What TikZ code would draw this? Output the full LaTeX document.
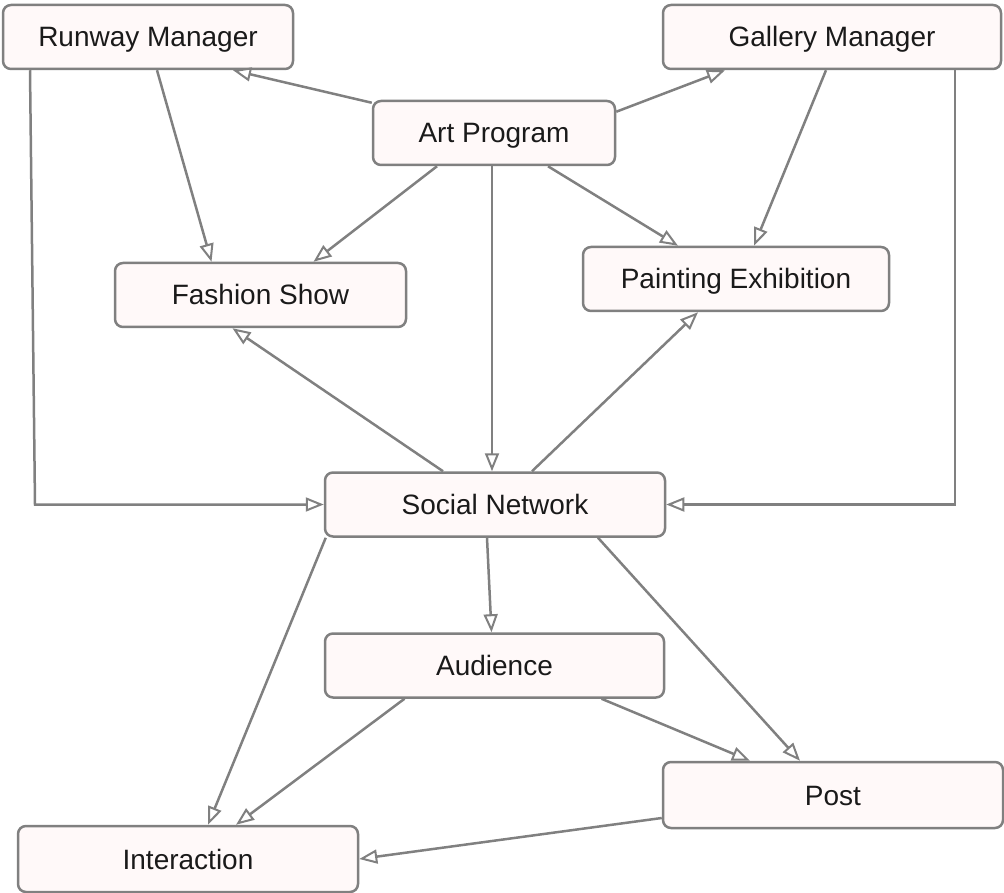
\documentclass[tikz,border=0pt]{standalone}
\usepackage{fontspec}
\setmainfont{Liberation Sans}
\usetikzlibrary{arrows.meta}
\definecolor{edgegray}{HTML}{808080}
\definecolor{boxfill}{HTML}{FFF9F9}
\definecolor{textdark}{HTML}{1A1A1A}
\begin{document}
\begin{tikzpicture}[x=1pt,y=-1pt,
  box/.style={draw=edgegray, fill=boxfill, line width=2.5pt, rounded corners=8pt,
    minimum height=64pt, inner sep=0pt, text=textdark,
    text height=20pt, text depth=0pt,
    font=\fontsize{28}{34}\selectfont},
  link/.style={draw=edgegray, line width=2.5pt,
    -{Triangle[length=18pt,width=14pt,fill=white,line width=2pt]}}]
\useasboundingbox (0,0) rectangle (1004,893);

% boxes
\node[box, minimum width=290pt] (runway)  at (148,37)    {Runway Manager};
\node[box, minimum width=338pt] (gallery) at (832,37)    {Gallery Manager};
\node[box, minimum width=242pt] (art)     at (494,133)   {Art Program};
\node[box, minimum width=291pt] (fashion) at (260.5,295) {Fashion Show};
\node[box, minimum width=306pt] (paint)   at (736,279)   {Painting Exhibition};
\node[box, minimum width=340pt] (social)  at (495,504.5) {Social Network};
\node[box, minimum width=339pt] (aud)     at (494.5,665.5) {Audience};
\node[box, minimum width=340pt, minimum height=66pt] (post) at (833,795) {Post};
\node[box, minimum width=340pt, minimum height=66pt] (inter) at (188,859) {Interaction};

\coordinate (rbend) at (35,504.5);

% connectors from Art Program
\draw[link] ([yshift=-3pt]art.north west) -- ([xshift=85pt]runway.south);
\draw[link] ([yshift=-12pt]art.north east) -- ([xshift=-107pt]gallery.south);
\draw[link] ([xshift=-57pt]art.south) -- ([xshift=53pt]fashion.north);
\draw[link] ([xshift=54pt]art.south) -- ([xshift=-58pt]paint.north);
\draw[link] ([xshift=-2pt]art.south) -- ([xshift=-3pt]social.north);

% managers
\draw[link] ([xshift=9pt]runway.south) -- ([xshift=-49pt]fashion.north);
\draw[link] ([xshift=-6pt]gallery.south) -- ([xshift=18pt]paint.north);
\draw[link] ([xshift=-118pt]runway.south) -- (rbend) -- (social.west);
\draw[link] ([xshift=123pt]gallery.south) |- (social.east);

% from Social Network
\draw[link] ([xshift=-52pt]social.north) -- ([xshift=-28pt]fashion.south);
\draw[link] ([xshift=37pt]social.north) -- ([xshift=-38pt]paint.south);
\draw[link] ([xshift=-8pt]social.south) -- ([xshift=-3pt]aud.north);
\draw[link] ([xshift=2pt]social.south west) -- ([xshift=20pt]inter.north);
\draw[link] ([xshift=103pt]social.south) -- ([xshift=-33pt]post.north);

% from Audience and Post
\draw[link] ([xshift=-90pt]aud.south) -- ([xshift=48pt]inter.north);
\draw[link] ([xshift=107pt]aud.south) -- ([xshift=-83pt]post.north);
\draw[link] ([yshift=-23pt]post.west) -- (inter.east);
\end{tikzpicture}
\end{document}
